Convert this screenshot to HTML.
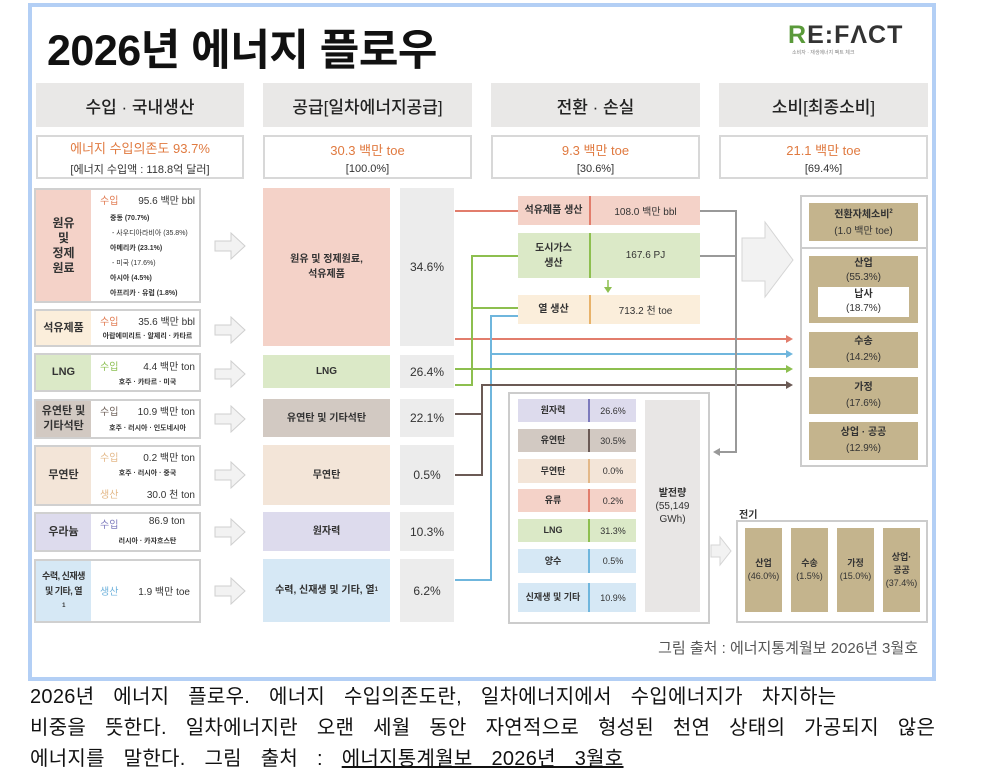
<!DOCTYPE html>
<html><head><meta charset="utf-8"><style>
*{margin:0;padding:0;box-sizing:border-box}
body{width:992px;height:779px;background:#fff;position:relative;overflow:hidden;font-family:"Liberation Sans","Noto Sans CJK KR",sans-serif;color:#333}
.a{position:absolute}
.c{position:absolute;display:flex;align-items:center;justify-content:center;text-align:center;flex-direction:column}
.hd{background:#e9e8e7;font-size:17px;color:#222;font-weight:500}
.sm{border:2px solid #d8d8d8;background:#fff;font-size:12px}
.or{color:#e07a40;font-size:13px}
.lb{border:2px solid #d0d0d0;background:#fff}
.lt{font-size:11px;font-weight:bold;color:#333;line-height:15px}
.pc{background:#ececec;font-size:12px}
.tan{background:#c4b48d;font-size:10px;color:#333;line-height:16px}
.gr{font-size:9px}
</style></head><body>
<div class="a" style="left:28px;top:3px;width:908px;height:678px;border:4px solid #b3cff5"></div>
<div class="a" style="left:47px;top:16px;font-size:43px;font-weight:bold;color:#111;letter-spacing:-0.5px">2026년 에너지 플로우</div>
<div class="a" style="left:788px;top:21px;font-size:25px;font-weight:bold;color:#333;letter-spacing:1px"><span style="color:#5a9a3a">R</span>E:FΛCT</div>
<div class="a" style="left:792px;top:49px;font-size:5px;color:#888">소비자 · 재생에너지 팩트 체크</div>

<div class="c hd" style="left:36px;top:83px;width:208px;height:44px">수입 · 국내생산</div>
<div class="c hd" style="left:263px;top:83px;width:209px;height:44px">공급[일차에너지공급]</div>
<div class="c hd" style="left:491px;top:83px;width:209px;height:44px">전환 · 손실</div>
<div class="c hd" style="left:719px;top:83px;width:209px;height:44px">소비[최종소비]</div>

<div class="c sm" style="left:36px;top:135px;width:208px;height:44px"><span class="or">에너지 수입의존도 93.7%</span><span style="margin-top:4px;font-size:11px">[에너지 수입액 : 118.8억 달러]</span></div>
<div class="c sm" style="left:263px;top:135px;width:209px;height:44px"><span class="or">30.3 백만 toe</span><span style="margin-top:4px;font-size:11px">[100.0%]</span></div>
<div class="c sm" style="left:491px;top:135px;width:209px;height:44px"><span class="or">9.3 백만 toe</span><span style="margin-top:4px;font-size:11px">[30.6%]</span></div>
<div class="c sm" style="left:719px;top:135px;width:209px;height:44px"><span class="or">21.1 백만 toe</span><span style="margin-top:4px;font-size:11px">[69.4%]</span></div>

<!-- left column -->
<div class="a lb" style="left:34px;top:188px;width:167px;height:115px"></div>
<div class="c lt" style="left:36px;top:190px;width:55px;height:111px;background:#f4d2c8;font-size:12px">원유<br>및<br>정제<br>원료</div>
<div class="a" style="left:100px;top:192px;font-size:10px;width:95px"><span style="color:#e07a50">수입</span><span style="float:right">95.6 백만 bbl</span></div>
<div class="a" style="left:110px;top:211px;font-size:7px;line-height:15px;font-weight:bold">중동 (70.7%)<br><span style="font-weight:normal">&nbsp;- 사우디아라비아 (35.8%)</span><br>아메리카 (23.1%)<br><span style="font-weight:normal">&nbsp;- 미국 (17.6%)</span><br>아시아 (4.5%)<br>아프리카 · 유럽 (1.8%)</div>

<div class="a lb" style="left:34px;top:309px;width:167px;height:38px"></div>
<div class="c lt" style="left:36px;top:311px;width:55px;height:34px;background:#fbeedb">석유제품</div>
<div class="a" style="left:100px;top:313px;font-size:10px;width:95px"><span style="color:#e07a50">수입</span><span style="float:right">35.6 백만 bbl</span></div>
<div class="a" style="left:100px;top:331px;font-size:7px;font-weight:bold;width:95px;text-align:center">아랍에미리트 · 알제리 · 카타르</div>

<div class="a lb" style="left:34px;top:353px;width:167px;height:39px"></div>
<div class="c lt" style="left:36px;top:355px;width:55px;height:35px;background:#dbe9c7">LNG</div>
<div class="a" style="left:100px;top:358px;font-size:10px;width:95px"><span style="color:#8cbf52">수입</span><span style="float:right">4.4 백만 ton</span></div>
<div class="a" style="left:100px;top:377px;font-size:7px;font-weight:bold;width:95px;text-align:center">호주 · 카타르 · 미국</div>

<div class="a lb" style="left:34px;top:399px;width:167px;height:40px"></div>
<div class="c lt" style="left:36px;top:401px;width:55px;height:36px;background:#d2c9c2">유연탄 및<br>기타석탄</div>
<div class="a" style="left:100px;top:403px;font-size:10px;width:95px"><span style="color:#6d5f57">수입</span><span style="float:right">10.9 백만 ton</span></div>
<div class="a" style="left:100px;top:423px;font-size:7px;font-weight:bold;width:95px;text-align:center">호주 · 러시아 · 인도네시아</div>

<div class="a lb" style="left:34px;top:445px;width:167px;height:61px"></div>
<div class="c lt" style="left:36px;top:447px;width:55px;height:57px;background:#f3e5d8">무연탄</div>
<div class="a" style="left:100px;top:449px;font-size:10px;width:95px"><span style="color:#e3b888">수입</span><span style="float:right">0.2 백만 ton</span></div>
<div class="a" style="left:100px;top:468px;font-size:7px;font-weight:bold;width:95px;text-align:center">호주 · 러시아 · 중국</div>
<div class="a" style="left:100px;top:486px;font-size:10px;width:95px"><span style="color:#e3b888">생산</span><span style="float:right">30.0 천 ton</span></div>

<div class="a lb" style="left:34px;top:512px;width:167px;height:40px"></div>
<div class="c lt" style="left:36px;top:514px;width:55px;height:36px;background:#dddbed">우라늄</div>
<div class="a" style="left:100px;top:516px;font-size:10px;width:85px"><span style="color:#7d7abd">수입</span><span style="float:right">86.9 ton</span></div>
<div class="a" style="left:100px;top:536px;font-size:7px;font-weight:bold;width:95px;text-align:center">러시아 · 카자흐스탄</div>

<div class="a lb" style="left:34px;top:559px;width:167px;height:64px"></div>
<div class="c lt" style="left:36px;top:561px;width:55px;height:60px;background:#d6e8f5;font-size:9px;letter-spacing:-0.5px">수력, 신재생<br>및 기타, 열<sup style="font-size:6px">1</sup></div>
<div class="a" style="left:100px;top:583px;font-size:10px;width:90px"><span style="color:#6fb2dc">생산</span><span style="float:right">1.9 백만 toe</span></div>

<svg class="a" style="left:0;top:0" width="992" height="779">
<defs><g id="ar"><path d="M0 8 H16 V0 L30 13 L16 26 V18 H0 Z" fill="#f2f2f2" stroke="#cfcfcf" stroke-width="1"/></g></defs>
<use href="#ar" x="215" y="233"/><use href="#ar" x="215" y="317"/><use href="#ar" x="215" y="361"/><use href="#ar" x="215" y="406"/><use href="#ar" x="215" y="462"/><use href="#ar" x="215" y="519"/><use href="#ar" x="215" y="578"/>
<path d="M455 211 H518" stroke="#e27d6c" stroke-width="2" fill="none"/>
<path d="M455 339 H790" stroke="#e27d6c" stroke-width="2" fill="none"/><path d="M786 335 L793 339 L786 343Z" fill="#e27d6c"/>
<path d="M455 580 H491 V316 H518 M491 354 H790" stroke="#6fb6dd" stroke-width="2" fill="none"/><path d="M786 350 L793 354 L786 358Z" fill="#6fb6dd"/>
<path d="M455 385 H472 V256 H518 M472 308 H518 M455 369 H790" stroke="#8dbf4f" stroke-width="2" fill="none"/><path d="M786 365 L793 369 L786 373Z" fill="#8dbf4f"/>
<path d="M455 414 H482 V385 H790 M482 414 V475 H455" stroke="#6b5a55" stroke-width="2" fill="none"/><path d="M786 381 L793 385 L786 389Z" fill="#6b5a55"/>
<path d="M700 211 H736 V452 H716 M700 256 H736" stroke="#999" stroke-width="2" fill="none"/><path d="M720 448 L713 452 L720 456Z" fill="#999"/>
<path d="M608 280 V290" stroke="#8dbf4f" stroke-width="1.5"/><path d="M604 287 L608 293 L612 287Z" fill="#8dbf4f"/>
<path d="M742 238 H765 V222 L793 260 L765 297 V281 H742 Z" fill="#f2f2f2" stroke="#d5d5d5"/>
<path d="M711 545 H720 V537 L731 551 L720 565 V557 H711 Z" fill="#f2f2f2" stroke="#d5d5d5"/>
</svg>

<!-- supply -->
<div class="c lt" style="left:263px;top:188px;width:127px;height:158px;background:#f4d2c8;font-size:10px">원유 및 정제원료,<br>석유제품</div>
<div class="c pc" style="left:400px;top:188px;width:54px;height:158px">34.6%</div>
<div class="c lt" style="left:263px;top:355px;width:127px;height:33px;background:#dbe9c7;font-size:10px">LNG</div>
<div class="c pc" style="left:400px;top:355px;width:54px;height:33px">26.4%</div>
<div class="c lt" style="left:263px;top:399px;width:127px;height:38px;background:#d2c9c2;font-size:10px">유연탄 및 기타석탄</div>
<div class="c pc" style="left:400px;top:399px;width:54px;height:38px">22.1%</div>
<div class="c lt" style="left:263px;top:445px;width:127px;height:60px;background:#f3e5d8;font-size:10px">무연탄</div>
<div class="c pc" style="left:400px;top:445px;width:54px;height:60px">0.5%</div>
<div class="c lt" style="left:263px;top:512px;width:127px;height:39px;background:#dddbed;font-size:10px">원자력</div>
<div class="c pc" style="left:400px;top:512px;width:54px;height:39px">10.3%</div>
<div class="c lt" style="left:263px;top:559px;width:127px;height:63px;background:#d6e8f5;font-size:10px;white-space:nowrap;display:flex;flex-direction:row">수력, 신재생 및 기타, 열<sup style="font-size:6px">1</sup></div>
<div class="c pc" style="left:400px;top:559px;width:54px;height:63px">6.2%</div>

<!-- conversion -->
<div class="c lt" style="left:518px;top:196px;width:73px;height:29px;background:#f4d2c8;border-right:2px solid #e27d6c;font-size:10px">석유제품 생산</div>
<div class="c" style="left:591px;top:196px;width:109px;height:29px;background:#f4d2c8;font-size:10px">108.0 백만 bbl</div>
<div class="c lt" style="left:518px;top:233px;width:73px;height:45px;background:#dbe9c7;border-right:2px solid #8dbf4f;font-size:10px">도시가스<br>생산</div>
<div class="c" style="left:591px;top:233px;width:109px;height:45px;background:#dbe9c7;font-size:10px">167.6 PJ</div>
<div class="c lt" style="left:518px;top:295px;width:73px;height:29px;background:#fbeedb;border-right:2px solid #e8b26a;font-size:10px">열 생산</div>
<div class="c" style="left:591px;top:295px;width:109px;height:29px;background:#fbeedb;font-size:10px">713.2 천 toe</div>

<div class="a" style="left:508px;top:392px;width:202px;height:232px;border:2px solid #ccc"></div>
<div class="c lt" style="left:518px;top:399px;width:72px;height:23px;background:#dddbed;border-right:2px solid #7d7abd;font-size:9px">원자력</div><div class="c gr" style="left:590px;top:399px;width:46px;height:23px;background:#dddbed">26.6%</div>
<div class="c lt" style="left:518px;top:429px;width:72px;height:23px;background:#d2c9c2;border-right:2px solid #6b5a55;font-size:9px">유연탄</div><div class="c gr" style="left:590px;top:429px;width:46px;height:23px;background:#d2c9c2">30.5%</div>
<div class="c lt" style="left:518px;top:459px;width:72px;height:24px;background:#f3e5d8;border-right:2px solid #e3b888;font-size:9px">무연탄</div><div class="c gr" style="left:590px;top:459px;width:46px;height:24px;background:#f3e5d8">0.0%</div>
<div class="c lt" style="left:518px;top:489px;width:72px;height:23px;background:#f4d2c8;border-right:2px solid #e27d6c;font-size:9px">유류</div><div class="c gr" style="left:590px;top:489px;width:46px;height:23px;background:#f4d2c8">0.2%</div>
<div class="c lt" style="left:518px;top:519px;width:72px;height:23px;background:#dbe9c7;border-right:2px solid #8dbf4f;font-size:9px">LNG</div><div class="c gr" style="left:590px;top:519px;width:46px;height:23px;background:#dbe9c7">31.3%</div>
<div class="c lt" style="left:518px;top:549px;width:72px;height:24px;background:#d6e8f5;border-right:2px solid #6fb6dd;font-size:9px">양수</div><div class="c gr" style="left:590px;top:549px;width:46px;height:24px;background:#d6e8f5">0.5%</div>
<div class="c lt" style="left:518px;top:583px;width:72px;height:29px;background:#d6e8f5;border-right:2px solid #6fb6dd;font-size:9px">신재생 및 기타</div><div class="c gr" style="left:590px;top:583px;width:46px;height:29px;background:#d6e8f5">10.9%</div>
<div class="c" style="left:645px;top:400px;width:55px;height:212px;background:#e8e6e5;font-size:10px;line-height:13px"><b>발전량</b>(55,149<br>GWh)</div>

<!-- consumption -->
<div class="a" style="left:800px;top:195px;width:128px;height:272px;border:2px solid #ccc"></div>
<div class="a" style="left:800px;top:247px;width:128px;height:2px;background:#ccc"></div>
<div class="c tan" style="left:809px;top:203px;width:109px;height:38px"><b>전환자체소비<sup style="font-size:6px">2</sup></b>(1.0 백만 toe)</div>
<div class="a tan" style="left:809px;top:256px;width:109px;height:67px;text-align:center;padding-top:1px;line-height:14px"><b>산업</b><br>(55.3%)</div>
<div class="c" style="left:818px;top:287px;width:91px;height:30px;background:#fff;font-size:10px;line-height:14px"><b>납사</b>(18.7%)</div>
<div class="c tan" style="left:809px;top:332px;width:109px;height:36px"><b>수송</b>(14.2%)</div>
<div class="c tan" style="left:809px;top:377px;width:109px;height:37px"><b>가정</b>(17.6%)</div>
<div class="c tan" style="left:809px;top:422px;width:109px;height:38px"><b>상업 · 공공</b>(12.9%)</div>

<div class="a" style="left:739px;top:506px;font-size:10px;font-weight:bold">전기</div>
<div class="a" style="left:736px;top:520px;width:192px;height:103px;border:2px solid #ccc"></div>
<div class="c tan" style="left:745px;top:528px;width:37px;height:84px;font-size:9px;line-height:13px"><b>산업</b>(46.0%)</div>
<div class="c tan" style="left:791px;top:528px;width:37px;height:84px;font-size:9px;line-height:13px"><b>수송</b>(1.5%)</div>
<div class="c tan" style="left:837px;top:528px;width:37px;height:84px;font-size:9px;line-height:13px"><b>가정</b>(15.0%)</div>
<div class="c tan" style="left:883px;top:528px;width:37px;height:84px;font-size:9px;line-height:13px"><b>상업·<br>공공</b>(37.4%)</div>

<div class="a" style="left:560px;top:637px;width:358px;text-align:right;font-size:15px;color:#555">그림 출처 : 에너지통계월보 2026년 3월호</div>

<div class="a" style="left:30px;top:682px;font-size:20px;line-height:31px;color:#111;width:960px;letter-spacing:0.3px;word-spacing:13px;white-space:nowrap">2026년 에너지 플로우. 에너지 수입의존도란, 일차에너지에서 수입에너지가 차지하는<br>비중을 뜻한다. 일차에너지란 오랜 세월 동안 자연적으로 형성된 천연 상태의 가공되지 않은<br>에너지를 말한다. 그림 출처 : <u>에너지통계월보 2026년 3월호</u></div>
</body></html>
